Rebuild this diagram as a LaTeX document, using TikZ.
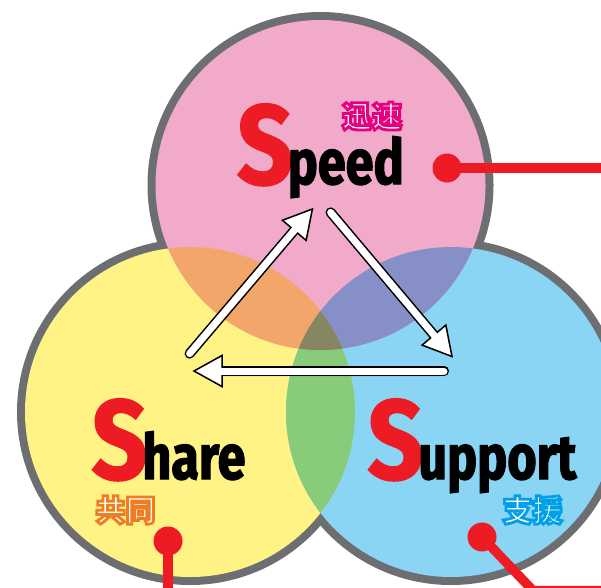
\documentclass[tikz,border=0pt]{standalone}
\usepackage{fontspec}
\usetikzlibrary{calc}
\IfFontExistsTF{Fira Sans Heavy}{%
  \newfontfamily\capfont{Fira Sans Heavy}[FakeStretch=0.82]
  \newfontfamily\restfont{Fira Sans Heavy}[FakeStretch=0.74]
  \def\engwt{}}{%
  \newfontfamily\capfont{Fira Sans}[FakeStretch=0.86, BoldFeatures={FakeStretch=0.86,FakeBold=1.5}]
  \newfontfamily\restfont{Fira Sans}[FakeStretch=0.8, BoldFeatures={FakeStretch=0.8,FakeBold=2}]
  \def\engwt{\bfseries}}
\IfFontExistsTF{Noto Sans CJK JP Black}{%
  \newfontfamily\cjkfont{Noto Sans CJK JP Black}
  \def\cjkwt{}\def\cjkw{2.8}}{%
  \newfontfamily\cjkfont{Noto Sans CJK JP}
  \def\cjkwt{\bfseries}\def\cjkw{2.2}}
\definecolor{ringgray}{HTML}{6D6E71}
\definecolor{cpink}{HTML}{F2AACB}
\definecolor{cyellow}{HTML}{FFF385}
\definecolor{cblue}{HTML}{8AD5F4}
\definecolor{corange}{HTML}{F2A66A}
\definecolor{cpurple}{HTML}{8690C6}
\definecolor{cgreen}{HTML}{88CB7B}
\definecolor{ccenter}{HTML}{868762}
\definecolor{sred}{HTML}{ED1C24}
\newcommand\outlined[2]{\special{pdf:literal direct 2 Tr \cjkw\space w #1 RG}#2\special{pdf:literal direct 0 Tr}}
\tikzset{
  reddot/.style={circle, fill=sred, minimum size=29pt, inner sep=0pt},
  redline/.style={draw=sred, line width=9.5pt},
  word/.style={anchor=base west, inner sep=0pt},
  jword/.style={inner sep=0pt},
}
\newcommand\fatarrow[2]{%
  \coordinate (#1-h) at ($(#2)!28pt!(#1)$);
  \coordinate (#1-i) at ($(#2)!24pt!(#1)$);
  \begin{scope}[shift={(1.5,2.5)}, transparency group, opacity=0.35]
    \draw[black, line width=10pt, line cap=round] (#1) -- (#1-h);
    \fill[black] ($(#1-h)!16.5pt!90:(#2)$) -- (#2) -- ($(#1-h)!16.5pt!-90:(#2)$) -- cycle;
  \end{scope}
  \draw[black, line width=10pt, line cap=round] (#1) -- (#1-h);
  \filldraw[fill=white, draw=black, line width=1.5pt, line join=miter]
    ($(#1-h)!15.5pt!90:(#2)$) -- (#2) -- ($(#1-h)!15.5pt!-90:(#2)$) -- cycle;
  \draw[white, line width=7pt, line cap=round] (#1) -- (#1-i);
}
\begin{document}
\begin{tikzpicture}[x=1pt,y=-1pt]
\useasboundingbox (0,0) rectangle (601,587);
\clip (0,0) rectangle (601,587);
\coordinate (cP) at (320.5,185);
\coordinate (cY) at (190,412);
\coordinate (cB) at (451,412);
% rings
\fill[ringgray] (cP) circle (173);
\fill[ringgray] (cY) circle (173);
\fill[ringgray] (cB) circle (173);
% discs
\fill[cyellow] (cY) circle (165);
\fill[cblue] (cB) circle (165);
\fill[cpink] (cP) circle (165);
\begin{scope}
  \clip (cY) circle (165);
  \fill[cgreen] (cB) circle (165);
\end{scope}
\begin{scope}
  \clip (cP) circle (165);
  \fill[corange] (cY) circle (165);
  \fill[cpurple] (cB) circle (165);
  \clip (cY) circle (165);
  \fill[ccenter] (cB) circle (165);
\end{scope}
% red markers
\node[reddot] (dS) at (447,168) {};
\coordinate (eS) at (610,168);
\draw[redline] (dS.center) -- (eS);
\node[reddot] (dH) at (168,541) {};
\coordinate (eH) at (168,600);
\draw[redline] (dH.center) -- (eH);
\node[reddot] (dU) at (482,537) {};
\coordinate (kU) at (533,590.6);
\coordinate (eU) at (610,590.6);
\draw[redline, line join=miter] (dU.center) -- (kU) -- (eU);
% arrows
\coordinate (a1s) at (189.6,353.6);
\coordinate (a1e) at (312.4,209);
\coordinate (a2s) at (330.6,212.4);
\coordinate (a2e) at (452,356.5);
\coordinate (a3s) at (444,371);
\coordinate (a3e) at (194,371);
\fatarrow{a1s}{a1e}
\fatarrow{a2s}{a2e}
\fatarrow{a3s}{a3e}
% words
\node[word] (speed) at (237,184) {\engwt
  {\capfont\fontsize{113}{113}\selectfont\color{sred}S}\kern-5pt%
  {\restfont\fontsize{63}{63}\selectfont\color{black}peed}};
\node[word] (share) at (91.5,479) {\engwt
  {\capfont\fontsize{113}{113}\selectfont\color{sred}S}\kern-5pt%
  {\restfont\fontsize{63}{63}\selectfont\color{black}hare}};
\node[word] (support) at (367.5,479) {\engwt
  {\capfont\fontsize{113}{113}\selectfont\color{sred}S}\kern-5pt%
  {\restfont\fontsize{63}{63}\selectfont\color{black}upport}};
\node[jword] (jspeed) at (372,116) {\cjkfont\cjkwt\fontsize{30}{30}\selectfont
  \color{white}\outlined{0.894 0 0.498}{迅速}};
\node[jword] (jshare) at (125.5,510) {\cjkfont\cjkwt\fontsize{30}{30}\selectfont
  \color{white}\outlined{0.937 0.49 0.133}{共同}};
\node[jword] (jsupport) at (532.5,510) {\cjkfont\cjkwt\fontsize{30}{30}\selectfont
  \color{white}\outlined{0 0.627 0.914}{支援}};
\end{tikzpicture}
\end{document}
